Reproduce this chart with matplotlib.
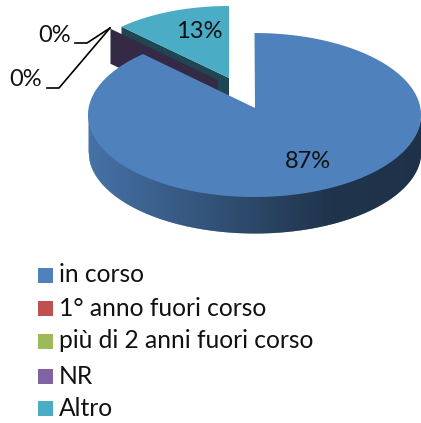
import numpy as np
import matplotlib
matplotlib.use('Agg')
import matplotlib.pyplot as plt
from matplotlib.patches import Polygon, Rectangle

labels = ['in corso', '1° anno fuori corso', 'più di 2 anni fuori corso', 'NR', 'Altro']
values = [87.3, 0.1, 0.1, 0.1, 12.4]
pct_labels = ['87%', '0%', '0%', '13%']
colors = ['#4F81BD', '#C0504D', '#9BBB59', '#8064A2', '#4BACC6']

W, H = 421, 423
plt.rcParams['font.family'] = ['Lato', 'DejaVu Sans']

fig = plt.figure(figsize=(W / 100, H / 100), dpi=100)
ax = fig.add_axes([0, 0, 1, 1])
ax.set_xlim(0, W)
ax.set_ylim(H, 0)
ax.axis('off')


def arc(cx, cy, rx, ry, a0, a1, n=200):
    # angles clockwise from the top, in degrees
    t = np.radians(np.linspace(a0, a1, n))
    return np.column_stack([cx + rx * np.sin(t), cy - ry * np.cos(t)])


def shade(c, f):
    return tuple(np.array(matplotlib.colors.to_rgb(c)) * f)


sweep = [v / sum(values) * 360 for v in values]
a_alt = sum(sweep[:4])
wall = 35

# exploded Altro slice: cut wall first, the zero slices sit in front of it
cx2, cy2, rx2, ry2 = 229, 78, 153, 72
alt_edge = arc(cx2, cy2, rx2, ry2, a_alt, a_alt, 1)[0]
ax.add_patch(Polygon([alt_edge, (cx2, cy2), (cx2, cy2 + wall), (alt_edge[0], alt_edge[1] + wall)],
                     fc='#1F4652', ec='none', zorder=1))
ax.add_patch(Polygon(np.vstack([[(cx2, cy2)], arc(cx2, cy2, rx2, ry2, a_alt, 360)]),
                     fc=colors[4], ec='none', zorder=3))

# zero slices: only the cut wall shows
nr_apex = (218, 80)
nr_edge = arc(nr_apex[0], nr_apex[1], rx2, ry2, a_alt, a_alt, 1)[0]
ax.add_patch(Polygon([nr_edge, nr_apex, (nr_apex[0], nr_apex[1] + wall), (nr_edge[0], nr_edge[1] + wall)],
                     fc='#352A45', ec='none', zorder=2))

# main slice, side wall with a gradient
cx, cy, rx, ry = 254.5, 115, 166.5, 82
apex = (255, 108)
depth = 36
view_skew = 3.7  # perspective pushes the cut edge round the rim
a_main = sweep[0] + view_skew
xs = np.linspace(cx - rx, cx + rx, 334)
for x0, x1 in zip(xs[:-1], xs[1:]):
    u = (x0 - xs[0]) / (xs[-1] - xs[0])
    f = np.interp(u, [0, 0.72, 1], [0.88, 0.40, 0.38])
    xm = np.array([x0, x1 + 0.6])
    yy = cy + ry * np.sqrt(np.clip(1 - ((xm - cx) / rx) ** 2, 0, 1))
    ax.fill_between(xm, yy - 2, yy + depth, color=shade(colors[0], f), lw=0, zorder=4)

top = np.vstack([[apex], arc(cx, cy, rx, ry, 0, a_main, 400)])
ax.add_patch(Polygon(top, fc=colors[0], ec='none', zorder=5))

# percentage labels and leader lines
ax.text(308, 161, pct_labels[0], fontsize=17, ha='center', va='center', color='#111111', zorder=8)
ax.text(199, 32, pct_labels[3], fontsize=17, ha='center', va='center', color='#111111', zorder=8)
ax.text(55, 35, pct_labels[1], fontsize=17, ha='center', va='center', color='#111111', zorder=8)
ax.text(26, 80, pct_labels[2], fontsize=17, ha='center', va='center', color='#111111', zorder=8)
ax.plot([75, 87, 110], [43, 43, 28], color='black', lw=1.2, zorder=8)
ax.plot([47, 59, 110], [88, 88, 28], color='black', lw=1.2, zorder=8)

# legend
ys = [275, 308, 341, 376, 408]
for lab, col, y in zip(labels, colors, ys):
    ax.add_patch(Rectangle((38, y - 6.5), 15, 15, fc=col, ec='none'))
    ax.text(59, y, lab, fontsize=17.7, va='center', ha='left', color='#111111')

fig.savefig('out.png', dpi=100)
